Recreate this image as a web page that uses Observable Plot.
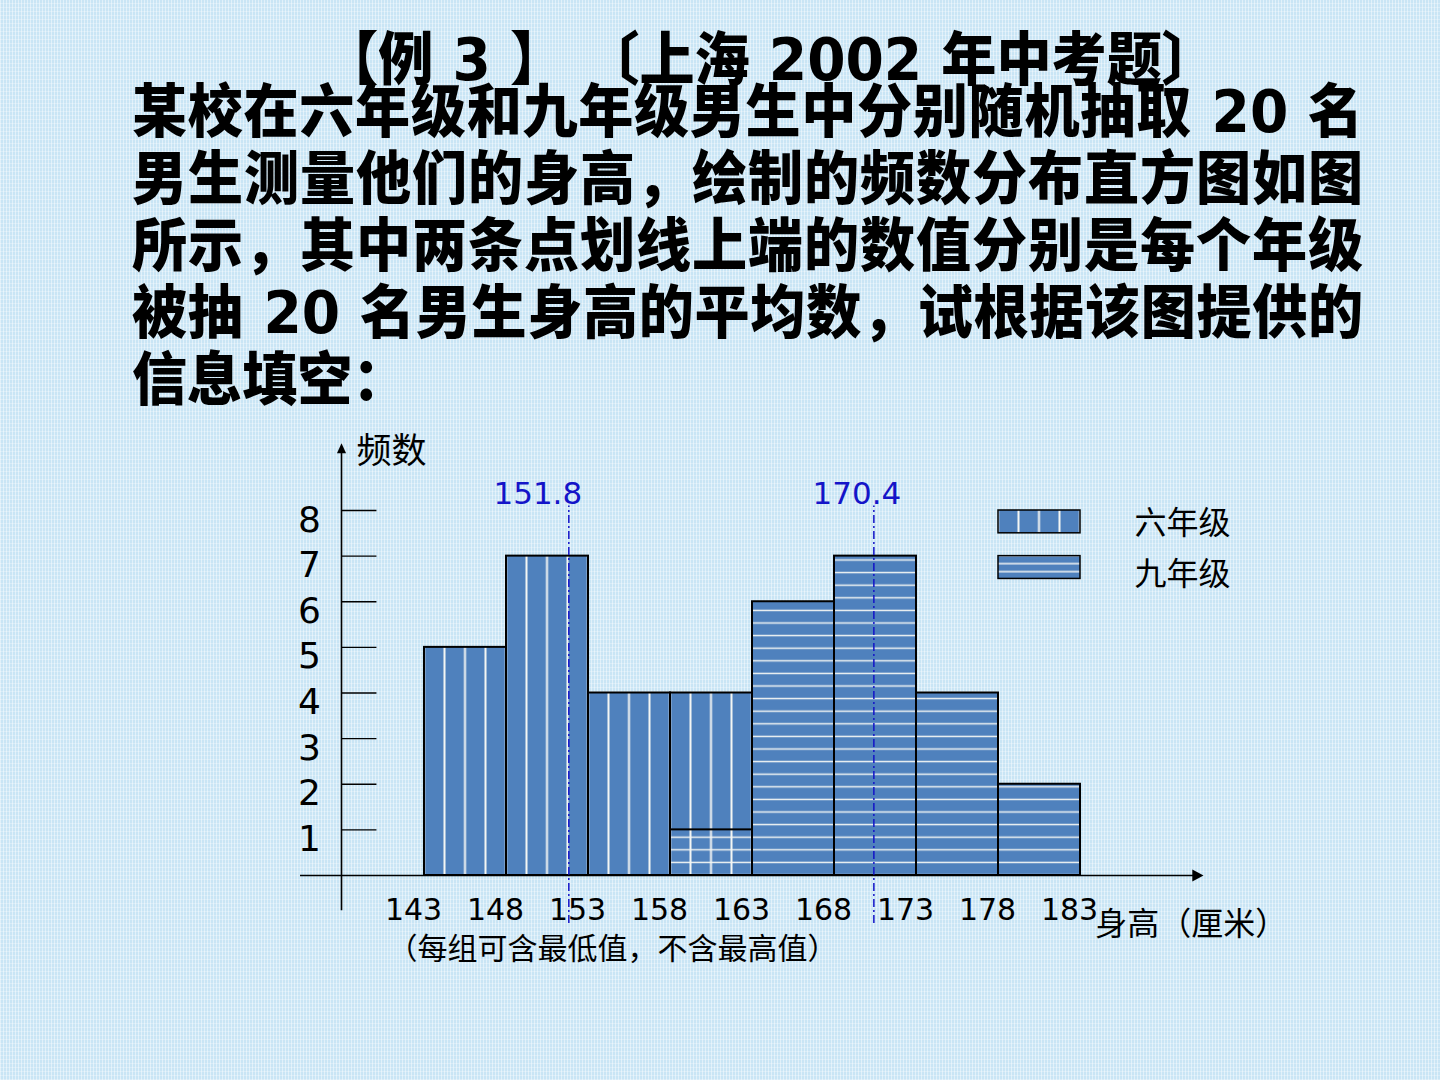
<!DOCTYPE html>
<html>
<head>
<meta charset="utf-8">
<script src="https://cdn.jsdelivr.net/npm/d3@7"></script>
<script src="https://cdn.jsdelivr.net/npm/@observablehq/plot@0.6"></script>
<style>
  html, body { margin: 0; padding: 0; }
  body { width: 1440px; height: 1080px; overflow: hidden; background: #cfe8f6; }
  #page {
    position: relative; width: 1440px; height: 1080px; overflow: hidden;
    background-color: #c9e5f5;
    background-image:
      repeating-linear-gradient(90deg, rgba(255,255,255,0.45) 0 1px, rgba(255,255,255,0) 1px 3px),
      repeating-linear-gradient(0deg, rgba(255,255,255,0.28) 0 1px, rgba(255,255,255,0) 1px 4px);
  }
  .t {
    position: absolute;
    font-family: "DejaVu Sans", "Noto Sans CJK SC", sans-serif;
    font-weight: 900;
    font-size: 58px;
    line-height: 58px;
    color: #000;
    transform-origin: 0 0;
    transform: scaleX(0.95);
  }
  .j { left: 132px; width: 1296px; text-align: justify; text-align-last: justify; }
  .l1 { left: 770px; white-space: nowrap; transform: translateX(-50%) scaleX(0.95); transform-origin: 50% 0; }
  #chart { position: absolute; left: 0; top: 0; }
</style>
</head>
<body>
<div id="page">
  <div class="t l1" style="top:31px">【例 3 】 〔上海 2002 年中考题〕</div>
  <div class="t j" style="top:83px">某校在六年级和九年级男生中分别随机抽取 20 名</div>
  <div class="t j" style="top:150px">男生测量他们的身高，绘制的频数分布直方图如图</div>
  <div class="t j" style="top:217px">所示，其中两条点划线上端的数值分别是每个年级</div>
  <div class="t j" style="top:284px">被抽 20 名男生身高的平均数，试根据该图提供的</div>
  <div class="t" style="top:351px; left:132px">信息填空：</div>
  <div id="chart"></div>
</div>
<script>
// ---- data ----
const binStarts = [143, 148, 153, 158, 163, 168, 173, 178];
const binEnds   = [148, 153, 158, 163, 168, 173, 178, 183];
const grade6    = [5, 7, 4, 4, 0, 0, 0, 0];
const grade9    = [0, 0, 0, 1, 6, 7, 4, 2];
const means      = [151.8, 170.4];
const meanLabels = ["151.8", "170.4"];
const xTicks = [143, 148, 153, 158, 163, 168, 173, 178, 183];
const yTicks = [1, 2, 3, 4, 5, 6, 7, 8];
const legendLabels = ["六年级", "九年级"];
const yAxisLabel = "频数";
const xAxisLabel = "身高（厘米）";
const captionText = "（每组可含最低值，不含最高值）";

// ---- tables built from the arrays ----
const g6 = binStarts.map((s, i) => ({x1: s, x2: binEnds[i], count: grade6[i]})).filter(d => d.count > 0);
const g9 = binStarts.map((s, i) => ({x1: s, x2: binEnds[i], count: grade9[i]})).filter(d => d.count > 0);

const BAR = "#4f81bd";
const BLUE = "#1414c8";
const LATIN = "DejaVu Sans";
const CJK = "Noto Sans CJK SC";
const AXIS_X = 137.94;   // y-axis position in x-data units

const upTri = { draw(ctx, size) { const r = Math.sqrt(size / Math.PI); ctx.moveTo(0, -1.45 * r); ctx.lineTo(1.3 * r, 1.45 * r); ctx.lineTo(-1.3 * r, 1.45 * r); ctx.closePath(); } };
const rightTri = { draw(ctx, size) { const r = Math.sqrt(size / Math.PI); ctx.moveTo(1.4 * r, 0); ctx.lineTo(-1.4 * r, -1.5 * r); ctx.lineTo(-1.4 * r, 1.5 * r); ctx.closePath(); } };

const svg = Plot.plot({
  width: 1440,
  height: 1080,
  style: {background: "transparent", overflow: "visible", fontFamily: LATIN},
  x: {domain: [143, 183], range: [424, 1080], axis: null},
  y: {domain: [0, 8], range: [875, 510], axis: null},
  marks: [
    // legend swatches
    Plot.rect([legendLabels[0]], {x1: () => 178, x2: () => 183, y1: () => 7.5, y2: () => 8, fill: "url(#vhatch)", stroke: "black", strokeWidth: 1.5}),
    Plot.rect([legendLabels[1]], {x1: () => 178, x2: () => 183, y1: () => 6.5, y2: () => 7, fill: "url(#hhatchL)", stroke: "black", strokeWidth: 1.5}),
    Plot.text(legendLabels, {x: () => 186.3, y: (d, i) => 7.72 - i * 1.12, text: d => d, textAnchor: "start", fontSize: 32, fontFamily: CJK, fill: "black"}),
    // histogram bars: grade 9 base colour, grade 6 hatched, then grade 9 hatch lines on top
    Plot.rect(g9, {x1: "x1", x2: "x2", y1: () => 0, y2: "count", fill: BAR}),
    Plot.rect(g6, {x1: "x1", x2: "x2", y1: () => 0, y2: "count", fill: "url(#vhatch)", stroke: "black", strokeWidth: 2}),
    Plot.rect(g9, {x1: "x1", x2: "x2", y1: () => 0, y2: "count", fill: "url(#hhatch)", stroke: "black", strokeWidth: 2}),
    // mean dash-dot lines and labels
    Plot.ruleX(means, {x: d => d, y1: () => -1.05, y2: () => 8.1, stroke: BLUE, strokeWidth: 1.5, strokeDasharray: "8,3,2,3"}),
    Plot.text([meanLabels[0]], {x: () => means[0], y: () => 8.15, text: d => d, dx: -31, lineAnchor: "bottom", fontSize: 31, fontFamily: LATIN, fill: BLUE}),
    Plot.text([meanLabels[1]], {x: () => means[1], y: () => 8.15, text: d => d, dx: -17, lineAnchor: "bottom", fontSize: 31, fontFamily: LATIN, fill: BLUE}),
    // axes
    Plot.ruleY([0], {y: d => d, x1: () => 135.44, x2: () => 190.0, stroke: "black", strokeWidth: 1.6}),
    Plot.ruleX([AXIS_X], {x: d => d, y1: () => -0.77, y2: () => 9.3, stroke: "black", strokeWidth: 1.6}),
    Plot.dot([0], {x: () => AXIS_X, y: () => 9.365, symbol: upTri, r: 3.5, fill: "black", stroke: "none"}),
    Plot.dot([0], {x: () => 190.16, y: () => 0, symbol: rightTri, r: 4, fill: "black", stroke: "none"}),
    Plot.ruleY(yTicks, {y: d => d, x1: () => AXIS_X, x2: () => 140.1, stroke: "black", strokeWidth: 1.4}),
    Plot.text(yTicks, {x: () => AXIS_X, y: d => d, text: d => String(d), dx: -32, dy: 21, lineAnchor: "bottom", fontSize: 36, fontFamily: LATIN, fill: "black"}),
    Plot.text(xTicks, {x: d => d, y: () => 0, text: d => String(d), dx: -11, dy: 44, lineAnchor: "bottom", fontSize: 30, fontFamily: LATIN, fill: "black"}),
    // axis titles & caption
    Plot.text([yAxisLabel], {x: () => AXIS_X, y: () => 9.29, text: d => d, dx: 15, textAnchor: "start", fontSize: 35, fontFamily: CJK, fill: "black"}),
    Plot.text([xAxisLabel], {x: () => 183.9, y: () => -1.07, text: d => d, textAnchor: "start", fontSize: 32, fontFamily: CJK, fill: "black"}),
    Plot.text([captionText], {x: () => 140.74, y: () => -1.62, text: d => d, textAnchor: "start", fontSize: 30, fontFamily: CJK, fill: "black"})
  ]
});

document.getElementById("chart").append(svg);

// hatch patterns (decorative fills), aligned to the scales
const xs = svg.scale("x"), ys = svg.scale("y");
const root = d3.select(svg);
const defs = root.insert("defs", ":first-child");
const LINE = "#f4f6f4";
const vw = (xs.apply(148) - xs.apply(143)) / 4;
const vp = defs.append("pattern").attr("id", "vhatch").attr("patternUnits", "userSpaceOnUse")
  .attr("x", xs.apply(143) - vw / 2).attr("y", 0).attr("width", vw).attr("height", 20);
vp.append("rect").attr("width", vw).attr("height", 20).attr("fill", BAR);
vp.append("line").attr("x1", vw / 2).attr("x2", vw / 2).attr("y1", 0).attr("y2", 20).attr("stroke", LINE).attr("stroke-width", 2);

// grade-9 hatch: lines only (base colour drawn underneath)
const hh = 12.6;
const hp = defs.append("pattern").attr("id", "hhatch").attr("patternUnits", "userSpaceOnUse")
  .attr("x", 0).attr("y", ys.apply(0) - hh / 2).attr("width", 40).attr("height", hh);
hp.append("line").attr("x1", 0).attr("x2", 40).attr("y1", hh / 2).attr("y2", hh / 2).attr("stroke", LINE).attr("stroke-width", 1.6);

const lh = 8;
const lp = defs.append("pattern").attr("id", "hhatchL").attr("patternUnits", "userSpaceOnUse")
  .attr("x", 0).attr("y", ys.apply(7) + lh / 2).attr("width", 40).attr("height", lh);
lp.append("rect").attr("width", 40).attr("height", lh).attr("fill", BAR);
lp.append("line").attr("x1", 0).attr("x2", 40).attr("y1", lh / 2).attr("y2", lh / 2).attr("stroke", LINE).attr("stroke-width", 1.6);
</script>
</body>
</html>
